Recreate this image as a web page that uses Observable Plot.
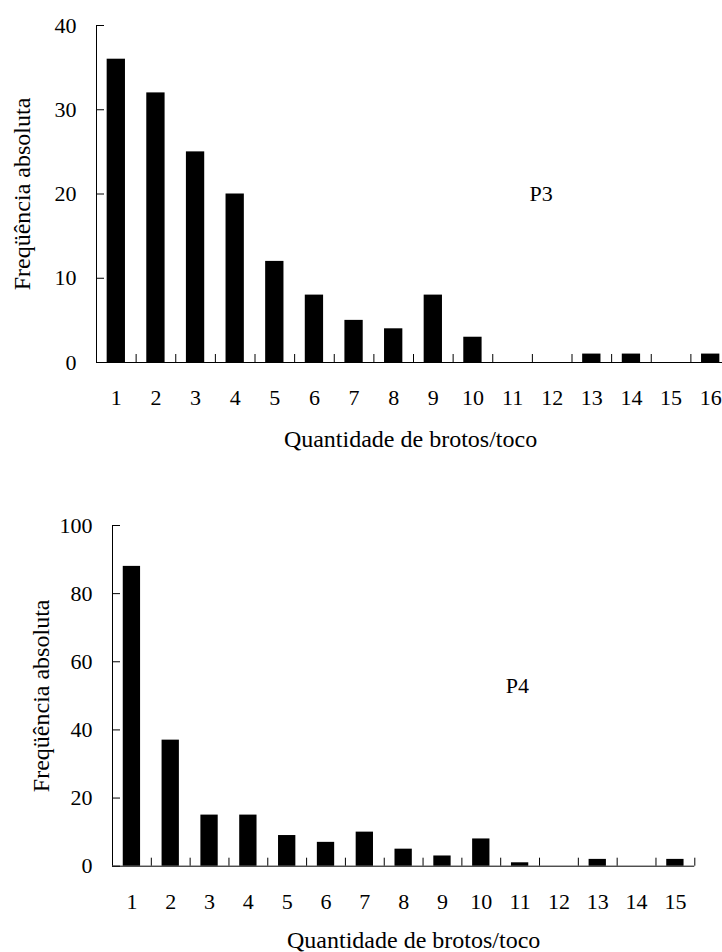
<!DOCTYPE html>
<html><head><meta charset="utf-8">
<script src="https://cdn.jsdelivr.net/npm/d3@7"></script>
<script src="https://cdn.jsdelivr.net/npm/@observablehq/plot@0.6"></script>
<style>
html,body{margin:0;padding:0;background:#fff;overflow:hidden;width:722px;height:952px}
#top,#bottom{display:block;line-height:0;overflow:hidden;width:722px}
svg, svg text{font-family:"Liberation Serif",Tinos,"Times New Roman",Times,"DejaVu Serif",serif !important}
</style></head><body><div id="top"></div><div id="bottom"></div>
<script>
// ---- data ----
const brotosP3 = [1,2,3,4,5,6,7,8,9,10,11,12,13,14,15,16];
const freqP3   = [36,32,25,20,12,8,5,4,8,3,0,0,1,1,0,1];
const brotosP4 = [1,2,3,4,5,6,7,8,9,10,11,12,13,14,15];
const freqP4   = [88,37,15,15,9,7,10,5,3,8,1,0,2,0,2];
const yTicksP3 = [0,10,20,30,40];
const yTicksP4 = [0,20,40,60,80,100];
const panelP3 = "P3";
const panelP4 = "P4";
const xTitle = "Quantidade de brotos/toco";
const yTitle = "Freqüência absoluta";

function chart(o) {
  const data = o.cats.map((k, i) => ({k, v: o.vals[i]}));
  const frameW = o.width - o.marginLeft - o.marginRight;
  const frameH = o.height - o.marginTop - o.marginBottom;
  const svg = Plot.plot({
    width: o.width, height: o.height,
    marginLeft: o.marginLeft, marginRight: o.marginRight,
    marginTop: o.marginTop, marginBottom: o.marginBottom,
    style: {fontFamily: "'Liberation Serif', 'Times New Roman', serif", fontSize: "22px", color: "black", background: "white"},
    x: {domain: [0.5, o.cats.length + 0.5]},
    y: {domain: [0, o.yMax]},
    marks: [
      Plot.rectY(data, {x1: d => d.k - o.half, x2: d => d.k + o.half, y: "v", fill: "black"}),
      Plot.ruleX([0.5], {stroke: "black", strokeWidth: 1}),
      Plot.ruleY([0], {stroke: "black", strokeWidth: 1}),
      Plot.tickY(o.yTicks, {y: d => d, stroke: "black", insetRight: frameW - 8}),
      Plot.tickX(o.cats.map(k => k + 0.5), {x: d => d, stroke: "black", insetTop: frameH - 8}),
      Plot.axisY({ticks: o.yTicks, tickSize: 0, tickPadding: 20, label: null, fontSize: 22}),
      Plot.axisX({ticks: o.cats, tickSize: 0, tickPadding: 27, tickFormat: d => String(d), label: null, fontSize: 22}),
      Plot.text([xTitle], {text: d => d, frameAnchor: "bottom", textAnchor: "middle", lineAnchor: "middle", dy: o.titleDy, dx: o.titleDx, fontSize: 24, fill: "black"}),
      Plot.text([yTitle], {text: d => d, frameAnchor: "left", textAnchor: "middle", lineAnchor: "middle", rotate: -90, dx: o.yTitleDx, fontSize: 24, fill: "black"}),
      Plot.text([o.panel], {text: d => d, x: o.panelX, y: o.panelY, fontSize: 22, fill: "black"})
    ]
  });
  svg.style.maxWidth = "none";
  svg.style.display = "block";
  return svg;
}

document.getElementById("top").append(chart({
  cats: brotosP3, vals: freqP3, yTicks: yTicksP3, yMax: 40, half: 0.231,
  width: 730, height: 470, marginLeft: 96, marginRight: 0, marginTop: 25, marginBottom: 108,
  titleDy: 77, titleDx: -3, yTitleDx: -74, panel: panelP3, panelX: 11.72, panelY: 20
}));
document.getElementById("bottom").append(chart({
  cats: brotosP4, vals: freqP4, yTicks: yTicksP4, yMax: 100, half: 0.223,
  width: 722, height: 482, marginLeft: 112, marginRight: 27.7, marginTop: 55, marginBottom: 86.3,
  titleDy: 74, titleDx: 10, yTitleDx: -71, panel: panelP4, panelX: 10.93, panelY: 53
}));
</script>
</body></html>
